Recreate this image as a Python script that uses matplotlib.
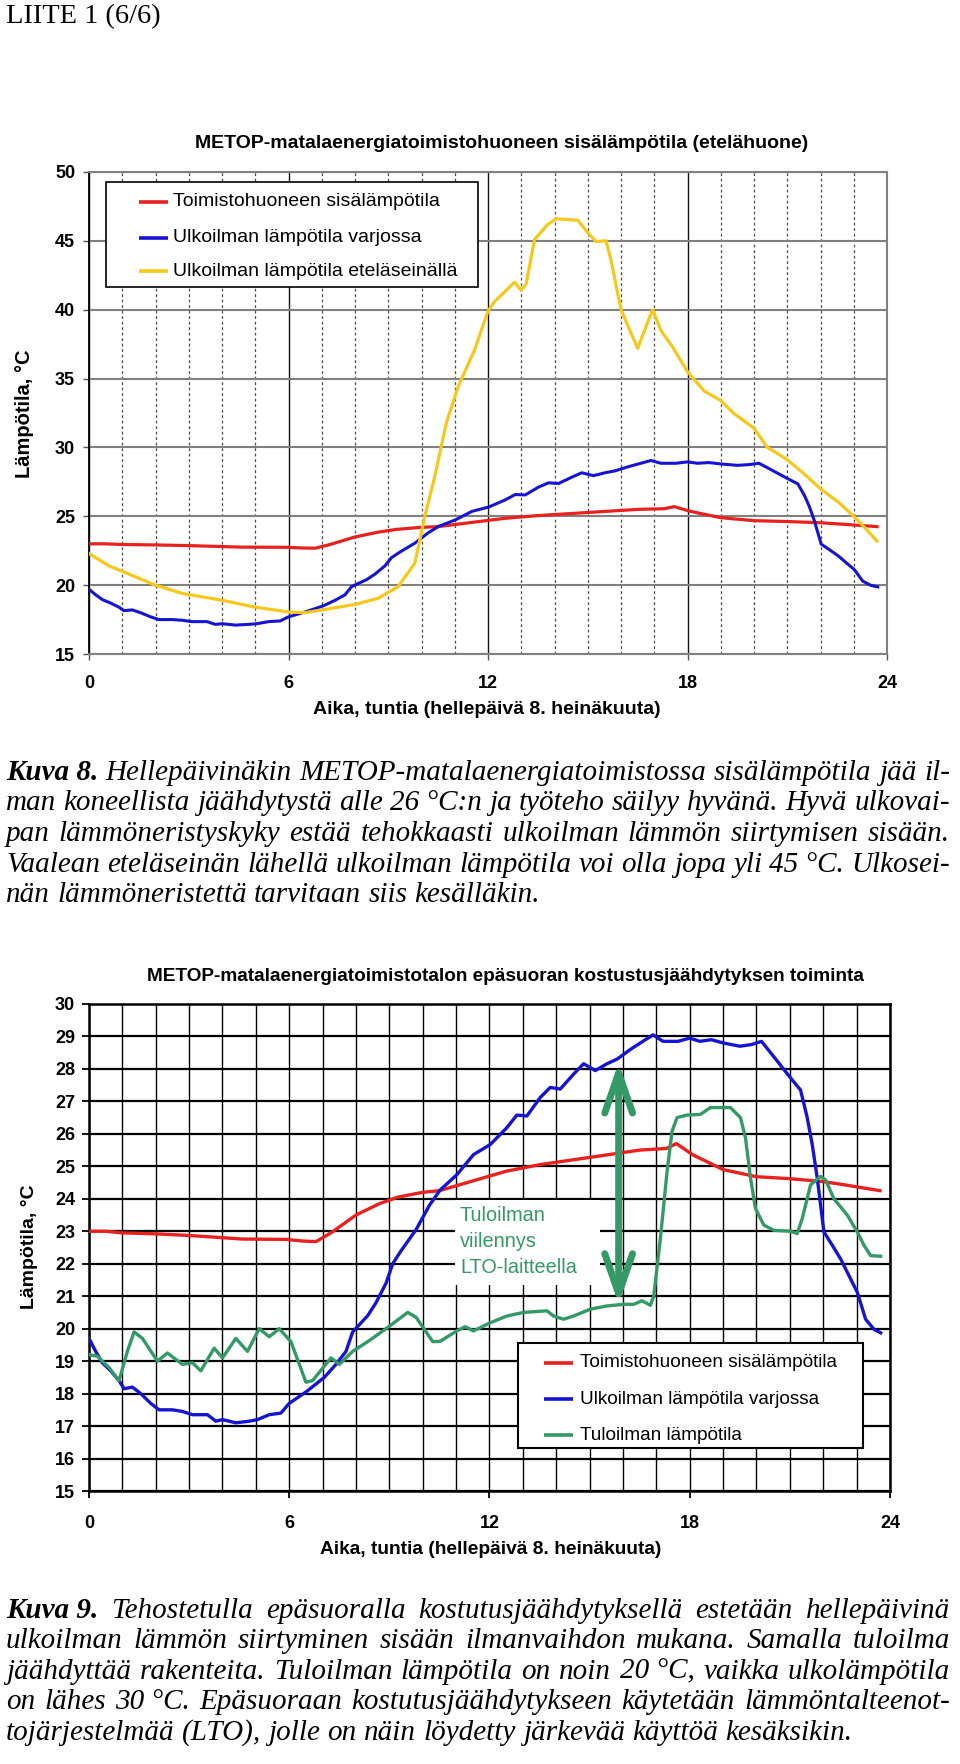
import matplotlib
matplotlib.use('Agg')
import matplotlib.pyplot as plt
from matplotlib.patches import Rectangle
from matplotlib.lines import Line2D

# ---------------- data ----------------
red_hours = [0, 0.5, 1, 2, 3, 3.6, 4.6, 5.9, 6.4, 6.8, 7.25, 8, 8.7, 9.25, 10, 10.5,
             11.5, 12.5, 13.5, 14.5, 15.5, 16.5, 17.3, 17.6, 18.1, 19.0, 20.0, 21.0,
             22.0, 22.7, 23.7]
red_temp = [23.0, 23.0, 22.95, 22.92, 22.87, 22.83, 22.76, 22.75, 22.7, 22.68, 22.95,
            23.5, 23.85, 24.05, 24.2, 24.25, 24.55, 24.85, 25.05, 25.2, 25.35, 25.5,
            25.55, 25.7, 25.35, 24.9, 24.68, 24.62, 24.53, 24.42, 24.25]

blue_hours = [0, 0.2, 0.4, 0.65, 0.9, 1.05, 1.3, 1.55, 1.85, 2.1, 2.5, 2.8, 3.1, 3.55,
              3.8, 4.0, 4.4, 4.8, 5.05, 5.4, 5.75, 6.0, 6.5, 7.05, 7.4, 7.7, 7.9, 8.35,
              8.6, 8.9, 9.1, 9.35, 9.8, 10.2, 10.52, 11.02, 11.52, 12.02, 12.52, 12.82,
              13.12, 13.52, 13.82, 14.12, 14.52, 14.82, 15.17, 15.52, 15.82, 16.22,
              16.52, 16.9, 17.2, 17.65, 18.0, 18.3, 18.65, 19.0, 19.5, 19.85, 20.15,
              20.5, 21.0, 21.32, 21.52, 21.67, 21.82, 22.02, 22.27, 22.52, 23.02, 23.27,
              23.52, 23.72]
blue_temp = [19.7, 19.3, 18.95, 18.7, 18.4, 18.15, 18.2, 18.0, 17.7, 17.5, 17.5, 17.45,
             17.35, 17.35, 17.15, 17.2, 17.1, 17.15, 17.2, 17.35, 17.4, 17.7, 18.05,
             18.5, 18.9, 19.3, 19.9, 20.4, 20.8, 21.4, 22.0, 22.4, 23.05, 23.8, 24.27,
             24.74, 25.36, 25.67, 26.19, 26.58, 26.55, 27.12, 27.43, 27.38, 27.84,
             28.16, 27.95, 28.16, 28.3, 28.6, 28.8, 29.05, 28.85, 28.85, 28.95, 28.85,
             28.9, 28.8, 28.7, 28.75, 28.85, 28.4, 27.75, 27.35, 26.5, 25.67, 24.64,
             22.98, 22.57, 22.15, 21.12, 20.29, 19.98, 19.87]

yellow_hours = [0, 0.6, 2.0, 2.8, 4.0, 5.0, 6.0, 6.5, 7.25, 8.0, 8.7, 9.3, 9.8, 10.1,
                10.4, 10.75, 11.1, 11.6, 12.0, 12.2, 12.8, 13.0, 13.15, 13.4, 13.8,
                14.05, 14.7, 15.0, 15.25, 15.55, 15.7, 16.0, 16.5, 16.95, 17.2, 17.55,
                18.0, 18.5, 19.0, 19.4, 20.0, 20.4, 20.95, 21.45, 22.0, 22.55, 23.0,
                23.4, 23.7]
yellow_temp = [22.3, 21.4, 20.0, 19.4, 18.9, 18.4, 18.05, 18.0, 18.3, 18.6, 19.05, 19.9,
               21.6, 25.0, 27.9, 31.8, 34.4, 37.1, 39.9, 40.6, 42.0, 41.4, 41.9, 45.1,
               46.2, 46.6, 46.5, 45.6, 44.95, 45.0, 43.6, 40.0, 37.2, 40.0, 38.5, 37.3,
               35.5, 34.1, 33.4, 32.45, 31.4, 30.0, 29.2, 28.2, 27.0, 26.0, 25.0, 24.0,
               23.2]

green_hours = [0, 0.25, 0.6, 0.9, 1.15, 1.35, 1.6, 2.05, 2.35, 2.8, 3.1, 3.35, 3.75, 4.0,
               4.4, 4.75, 5.1, 5.4, 5.7, 6.05, 6.5, 6.7, 7.25, 7.5, 7.9, 8.35, 8.9,
               9.55, 9.8, 10.3, 10.52, 11.02, 11.27, 11.52, 12.02, 12.52, 13.02, 13.72,
               13.92, 14.22, 14.52, 15.02, 15.52, 16.02, 16.32, 16.57, 16.82, 16.92,
               17.12, 17.32, 17.47, 17.62, 17.92, 18.32, 18.62, 19.22, 19.52, 19.67,
               19.82, 19.97, 20.22, 20.52, 21.02, 21.22, 21.37, 21.62, 21.92, 22.07,
               22.32, 22.72, 23.02, 23.22, 23.42, 23.72]
green_temp = [19.2, 19.15, 18.8, 18.4, 19.3, 19.9, 19.7, 19.0, 19.25, 18.9, 18.95, 18.7,
              19.4, 19.1, 19.7, 19.3, 20.0, 19.75, 20.0, 19.6, 18.35, 18.4, 19.1, 18.9,
              19.3, 19.6, 20.0, 20.5, 20.35, 19.6, 19.61, 19.93, 20.06, 19.93, 20.18,
              20.39, 20.5, 20.55, 20.39, 20.29, 20.39, 20.6, 20.7, 20.75, 20.75, 20.86,
              20.72, 21.0, 22.77, 24.84, 26.08, 26.5, 26.58, 26.6, 26.81, 26.81, 26.5,
              25.88, 24.64, 23.7, 23.19, 23.03, 23.0, 22.93, 23.39, 24.43, 24.69, 24.58,
              24.0, 23.5, 22.98, 22.57, 22.25, 22.23]

x_ticks = [0, 6, 12, 18, 24]
hour_grid = list(range(0, 25))
y1_ticks = [15, 20, 25, 30, 35, 40, 45, 50]
y2_ticks = list(range(15, 31))

page_header = "LIITE 1 (6/6)"
chart1_title = "METOP-matalaenergiatoimistohuoneen sisälämpötila (etelähuone)"
chart2_title = "METOP-matalaenergiatoimistotalon epäsuoran kostustusjäähdytyksen toiminta"
x_label = "Aika, tuntia (hellepäivä 8. heinäkuuta)"
y_label = "Lämpötila, °C"
legend1_labels = ["Toimistohuoneen sisälämpötila", "Ulkoilman lämpötila varjossa",
                  "Ulkoilman lämpötila eteläseinällä"]
legend2_labels = ["Toimistohuoneen sisälämpötila", "Ulkoilman lämpötila varjossa",
                  "Tuloilman lämpötila"]
annotation_text = "Tuloilman\nviilennys\nLTO-laitteella"
arrow_hour = 15.87
arrow_low = 20.75
arrow_high = 28.2

caption8_lines = [
    ["Kuva 8.", "Hellepäivinäkin", "METOP-matalaenergiatoimistossa", "sisälämpötila", "jää", "il-"],
    ["man", "koneellista", "jäähdytystä", "alle", "26 °C:n", "ja", "työteho", "säilyy", "hyvänä.", "Hyvä", "ulkovai-"],
    ["pan", "lämmöneristyskyky", "estää", "tehokkaasti", "ulkoilman", "lämmön", "siirtymisen", "sisään."],
    ["Vaalean", "eteläseinän", "lähellä", "ulkoilman", "lämpötila", "voi", "olla", "jopa", "yli", "45 °C.", "Ulkosei-"],
    ["nän", "lämmöneristettä", "tarvitaan", "siis", "kesälläkin."],
]
caption9_lines = [
    ["Kuva 9.", "Tehostetulla", "epäsuoralla", "kostutusjäähdytyksellä", "estetään", "hellepäivinä"],
    ["ulkoilman", "lämmön", "siirtyminen", "sisään", "ilmanvaihdon", "mukana.", "Samalla", "tuloilma"],
    ["jäähdyttää", "rakenteita.", "Tuloilman", "lämpötila", "on", "noin", "20 °C,", "vaikka", "ulkolämpötila"],
    ["on", "lähes", "30 °C.", "Epäsuoraan", "kostutusjäähdytykseen", "käytetään", "lämmöntalteenot-"],
    ["tojärjestelmää", "(LTO),", "jolle", "on", "näin", "löydetty", "järkevää", "käyttöä", "kesäksikin."],
]

# ---------------- styling ----------------
SANS = ['Liberation Sans', 'DejaVu Sans']
SERIF = ['Liberation Serif', 'DejaVu Serif']
plt.rcParams['font.family'] = SANS

RED = '#e8201e'
BLUE = '#1414d2'
YELLOW = '#f6c81c'
GREEN = '#339966'

W, H, DPI = 960, 1764, 100
fig = plt.figure(figsize=(W / DPI, H / DPI), dpi=DPI)
fig.patch.set_facecolor('white')
renderer = fig.canvas.get_renderer()


def fx(px):
    return px / W


def fy(py):
    return 1 - py / H


def axes_px(l, t, r, b):
    return fig.add_axes([l / W, 1 - b / H, (r - l) / W, (b - t) / H])


def legend_px(box, hx, tx, ys, colors, labels, fs, lw_box):
    l, t, r, b = box
    fig.add_artist(Rectangle((fx(l), fy(b)), fx(r) - fx(l), fy(t) - fy(b),
                             transform=fig.transFigure, facecolor='white',
                             edgecolor='black', lw=lw_box, zorder=5))
    for y, c, lab in zip(ys, colors, labels):
        fig.add_artist(Line2D([fx(hx[0]), fx(hx[1])], [fy(y), fy(y)],
                              transform=fig.transFigure, color=c, lw=2.6,
                              solid_capstyle='butt', zorder=6))
        fig.text(fx(tx), fy(y), lab, fontsize=fs, va='center', ha='left',
                 color='black', zorder=6)


# ---------------- header ----------------
fig.text(fx(6), fy(23), page_header, family=SERIF, fontsize=20.5,
         va='baseline', ha='left')

# ---------------- chart 1 ----------------
ax1 = axes_px(89, 172, 887, 654)
ax1.set_xlim(0, 24)
ax1.set_ylim(15, 50)
ax1.set_xticks(x_ticks)
ax1.set_xticks(hour_grid, minor=True)
ax1.set_yticks(y1_ticks)
ax1.set_axisbelow(True)
ax1.yaxis.grid(True, which='major', color='#808080', lw=1.5)
ax1.xaxis.grid(True, which='major', color='#111111', lw=1.0)
ax1.xaxis.grid(True, which='minor', color='#4a4a4a', lw=0.9, linestyle=(0, (2.2, 2.2)))
ax1.tick_params(which='major', direction='out', length=4, width=1, color='#555555',
                labelsize=13)
ax1.tick_params(axis='x', which='major', pad=11)
ax1.tick_params(axis='y', which='major', pad=6)
ax1.tick_params(which='minor', length=0)
for lab in ax1.get_xticklabels() + ax1.get_yticklabels():
    lab.set_fontweight('bold')
for side in ['top', 'right', 'bottom']:
    ax1.spines[side].set_color('#808080')
    ax1.spines[side].set_linewidth(1.5)
ax1.spines['left'].set_color('black')
ax1.spines['left'].set_linewidth(1.3)

ax1.plot(red_hours, red_temp, color=RED, lw=2.3, zorder=3)
ax1.plot(blue_hours, blue_temp, color=BLUE, lw=2.2, zorder=3)
ax1.plot(yellow_hours, yellow_temp, color=YELLOW, lw=2.3, zorder=3)

fig.text(fx(502), fy(144), chart1_title, fontsize=14, fontweight='bold',
         ha='center', va='center')
fig.text(fx(487), fy(710), x_label, fontsize=14, fontweight='bold',
         ha='center', va='center')
fig.text(fx(25), fy(414), y_label, fontsize=14.5, fontweight='bold',
         ha='center', va='center', rotation=90)
legend_px((106, 182, 478, 287), (139, 168), 173, (201.7, 237.7, 271),
          [RED, BLUE, YELLOW], legend1_labels, 14, 1.2)

# ---------------- chart 2 ----------------
ax2 = axes_px(89, 1004, 890, 1491)
ax2.set_xlim(0, 24)
ax2.set_ylim(15, 30)
ax2.set_xticks(x_ticks)
ax2.set_xticks(hour_grid, minor=True)
ax2.set_yticks(y2_ticks)
ax2.set_axisbelow(True)
ax2.yaxis.grid(True, which='major', color='black', lw=1.6)
ax2.xaxis.grid(True, which='both', color='black', lw=1.0)
ax2.tick_params(which='major', direction='out', length=5, width=1.3, color='black',
                labelsize=13)
ax2.tick_params(axis='x', which='major', pad=12)
ax2.tick_params(axis='y', which='major', pad=5)
ax2.tick_params(which='minor', length=0)
for lab in ax2.get_xticklabels() + ax2.get_yticklabels():
    lab.set_fontweight('bold')
for side in ax2.spines:
    ax2.spines[side].set_color('black')
    ax2.spines[side].set_linewidth(1.8)

ax2.add_patch(Rectangle((10.97, 21.35), 15.3 - 10.97, 23.95 - 21.35,
                        facecolor='white', edgecolor='none', zorder=1.5))
ax2.plot(red_hours, red_temp, color=RED, lw=2.4, zorder=3)
ax2.plot(blue_hours, blue_temp, color=BLUE, lw=2.4, zorder=3)
ax2.plot(green_hours, green_temp, color=GREEN, lw=2.4, zorder=3)
ax2.annotate('', xy=(arrow_hour, arrow_high), xytext=(arrow_hour, arrow_low),
             arrowprops=dict(arrowstyle='<->,head_length=1.44,head_width=0.5',
                             lw=5, color=GREEN, shrinkA=0, shrinkB=0,
                             mutation_scale=20), zorder=4)
fig.text(fx(460), fy(1241.5), annotation_text, fontsize=14.3, color=GREEN,
         ha='left', va='center', linespacing=1.45)

fig.text(fx(505), fy(977), chart2_title, fontsize=13.7, fontweight='bold',
         ha='center', va='center')
fig.text(fx(491), fy(1549), x_label, fontsize=13.8, fontweight='bold',
         ha='center', va='center')
fig.text(fx(29), fy(1247), y_label, fontsize=14, fontweight='bold',
         ha='center', va='center', rotation=90)
legend_px((518, 1343, 863, 1448), (544, 573), 580, (1362.7, 1399, 1435),
          [RED, BLUE, GREEN], legend2_labels, 13.7, 1.5)

# ---------------- captions (justified) ----------------
CAP_X0, CAP_X1 = 6, 950
CAP_FS_WANTED = 21.0


def text_width(s, weight, fs):
    t = fig.text(0, 0, s, family=SERIF, style='italic', weight=weight, fontsize=fs)
    w = t.get_window_extent(renderer).width
    t.remove()
    return w


def token_weight(k, s):
    return 'bold' if (k == 0 and s.startswith('Kuva')) else 'normal'


def natural_width(line, fs, space_factor):
    sp = text_width("a a", 'normal', fs) - text_width("aa", 'normal', fs)
    return sum(text_width(s, token_weight(k, s), fs) for k, s in enumerate(line)) + \
        space_factor * sp * (len(line) - 1)


# pick one caption size so that every justified line still fits
cap_fs = CAP_FS_WANTED
for line in caption8_lines + caption9_lines:
    nw = natural_width(line, CAP_FS_WANTED, 0.8)
    cap_fs = min(cap_fs, CAP_FS_WANTED * (CAP_X1 - CAP_X0) / nw)
SPACE_W = text_width("a a", 'normal', cap_fs) - text_width("aa", 'normal', cap_fs)


def place_line(tokens, y_px, x0, x1, justify):
    texts, widths = [], []
    for k, s in enumerate(tokens):
        t = fig.text(0, fy(y_px), s, family=SERIF, style='italic',
                     weight=token_weight(k, s), fontsize=cap_fs,
                     ha='left', va='baseline')
        texts.append(t)
        widths.append(t.get_window_extent(renderer).width)
    n = len(texts)
    gap = (x1 - x0 - sum(widths)) / (n - 1) if (justify and n > 1) else SPACE_W
    x = x0
    for t, wd in zip(texts, widths):
        t.set_x(fx(x))
        x += wd + gap


def place_paragraph(lines, y0, dy):
    for i, line in enumerate(lines):
        place_line(line, y0 + i * dy, CAP_X0, CAP_X1, justify=(i < len(lines) - 1))


place_paragraph(caption8_lines, 780, 30.5)
place_paragraph(caption9_lines, 1618, 30.4)

fig.savefig('out.png', dpi=DPI, facecolor='white')
